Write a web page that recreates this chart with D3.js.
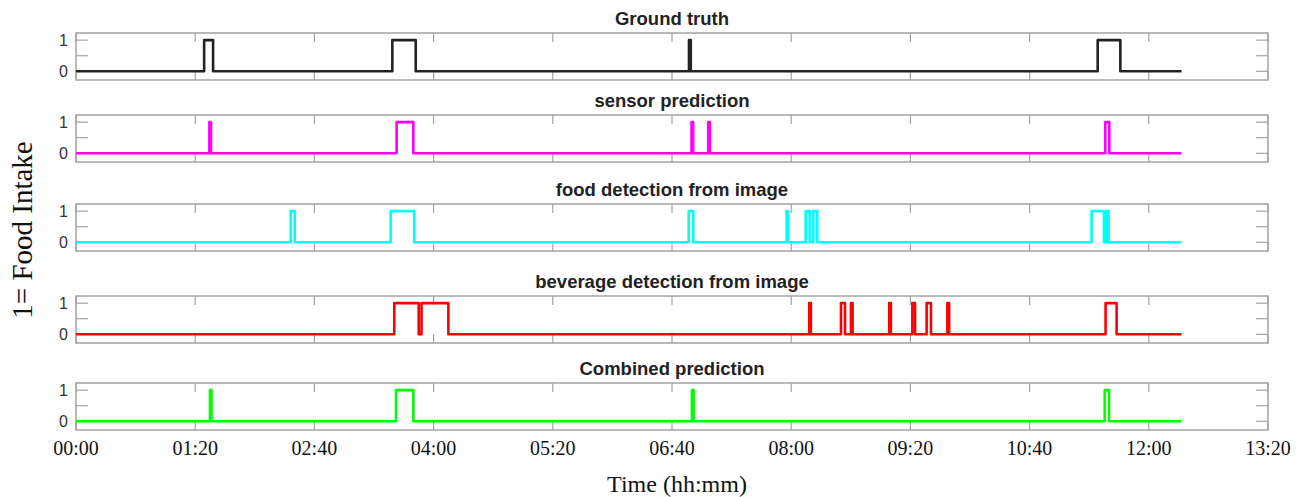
<!DOCTYPE html>
<html>
<head>
  <script src="https://d3js.org/d3.v7.min.js"></script>
  <style>
    body { margin: 0; background: #fff; }
  </style>
</head>
<body>
  <svg id="canvas" width="1306" height="497"></svg>
  <script>
    const svg = d3.select("#canvas");

    // Minutes since 00:00; each series is a list of [start, end] intervals where value = 1
    const endMinute = 742;
    const titles = [
      "Ground truth",
      "sensor prediction",
      "food detection from image",
      "beverage detection from image",
      "Combined prediction"
    ];
    const colors = ["#222222", "#ff00ff", "#00ffff", "#ff0000", "#00ff00"];

    const groundTruth = [[86, 92], [212.3, 228], [411.4, 412.6], [685.7, 700.9]];
    const sensorPred = [[89.5, 90.6], [215.2, 226.4], [413.1, 414.2], [424.3, 425.4], [690.8, 693.5]];
    const foodImage = [[144.1, 146.8], [211.2, 227], [411.2, 414.3], [476.9, 477.9],
                       [489.7, 492.4], [494.8, 497.5], [681.6, 689.9], [691.5, 693]];
    const beverageImage = [[213.6, 230], [231.9, 249.9], [492.1, 493.2], [513.4, 516.1],
                           [520.1, 521.2], [545.8, 546.9], [561.3, 563.1], [570.9, 573.8],
                           [584.8, 586], [691, 698.4]];
    const combinedPred = [[89.9, 90.9], [214.8, 226.4], [413.4, 414.5], [690.4, 693.3]];

    const series = [groundTruth, sensorPred, foodImage, beverageImage, combinedPred];

    const xTicks = d3.range(0, 801, 80);
    const yTicks = [0, 0.5, 1];
    const yLabels = [0, 1];

    const panelTops = [33, 115, 204, 296, 383];
    const panelH = 47;
    const left = 76, right = 1268;

    const x = d3.scaleLinear().domain([0, 800]).range([left, right]);
    const fmt = m => d3.format("02d")(Math.floor(m / 60)) + ":" + d3.format("02d")(m % 60);

    const frameColor = "#a3a3a3";

    series.forEach((intervals, i) => {
      const top = panelTops[i];
      const y = d3.scaleLinear().domain([-0.28, 1.23]).range([top + panelH, top]);
      const g = svg.append("g");

      // x ticks, top and bottom
      g.selectAll(".xt").data(xTicks).enter().append("line")
        .attr("x1", d => x(d)).attr("x2", d => x(d))
        .attr("y1", top).attr("y2", top + 9)
        .attr("stroke", frameColor).attr("stroke-width", 1.2);
      g.selectAll(".xb").data(xTicks).enter().append("line")
        .attr("x1", d => x(d)).attr("x2", d => x(d))
        .attr("y1", top + panelH).attr("y2", top + panelH - 9)
        .attr("stroke", frameColor).attr("stroke-width", 1.2);

      // y ticks, left and right
      g.selectAll(".yl").data(yTicks).enter().append("line")
        .attr("x1", left).attr("x2", left + 12)
        .attr("y1", d => y(d)).attr("y2", d => y(d))
        .attr("stroke", frameColor).attr("stroke-width", 1.2);
      g.selectAll(".yr").data(yTicks).enter().append("line")
        .attr("x1", right).attr("x2", right - 12)
        .attr("y1", d => y(d)).attr("y2", d => y(d))
        .attr("stroke", frameColor).attr("stroke-width", 1.2);

      g.append("rect")
        .attr("x", left).attr("y", top)
        .attr("width", right - left).attr("height", panelH)
        .attr("fill", "none").attr("stroke", frameColor).attr("stroke-width", 1.5);

      g.selectAll(".ylab").data(yLabels).enter().append("text")
        .attr("x", 68).attr("y", d => y(d))
        .attr("dy", "0.36em")
        .attr("text-anchor", "end")
        .attr("font-family", "Liberation Sans, Arial, sans-serif")
        .attr("font-size", 16)
        .attr("fill", "#333")
        .text(d => d);

      g.append("text")
        .attr("x", (left + right) / 2).attr("y", top - 8)
        .attr("text-anchor", "middle")
        .attr("font-family", "Liberation Sans, Arial, sans-serif")
        .attr("font-weight", "bold")
        .attr("font-size", 18.5)
        .attr("fill", "#222")
        .text(titles[i]);

      // step signal built from the intervals
      const pts = [[0, 0]];
      intervals.forEach(([s, e]) => {
        pts.push([s, 0], [s, 1], [e, 1], [e, 0]);
      });
      pts.push([endMinute, 0]);

      const line = d3.line().x(d => x(d[0])).y(d => y(d[1]));
      g.append("path")
        .attr("d", line(pts))
        .attr("fill", "none")
        .attr("stroke", colors[i])
        .attr("stroke-width", 2.6)
        .attr("stroke-linejoin", "round");
    });

    // x tick labels under last panel
    svg.selectAll(".xlab").data(xTicks).enter().append("text")
      .attr("x", d => x(d)).attr("y", 455)
      .attr("text-anchor", "middle")
      .attr("font-family", "Liberation Serif, Times New Roman, serif")
      .attr("font-size", 20)
      .attr("fill", "#111")
      .text(d => fmt(d));

    svg.append("text")
      .attr("x", 677).attr("y", 492)
      .attr("text-anchor", "middle")
      .attr("font-family", "Liberation Serif, Times New Roman, serif")
      .attr("font-size", 24)
      .attr("fill", "#111")
      .text("Time (hh:mm)");

    svg.append("text")
      .attr("transform", "translate(32,230) rotate(-90)")
      .attr("text-anchor", "middle")
      .attr("font-family", "Liberation Serif, Times New Roman, serif")
      .attr("font-size", 29)
      .attr("fill", "#111")
      .text("1= Food Intake");
  </script>
</body>
</html>
